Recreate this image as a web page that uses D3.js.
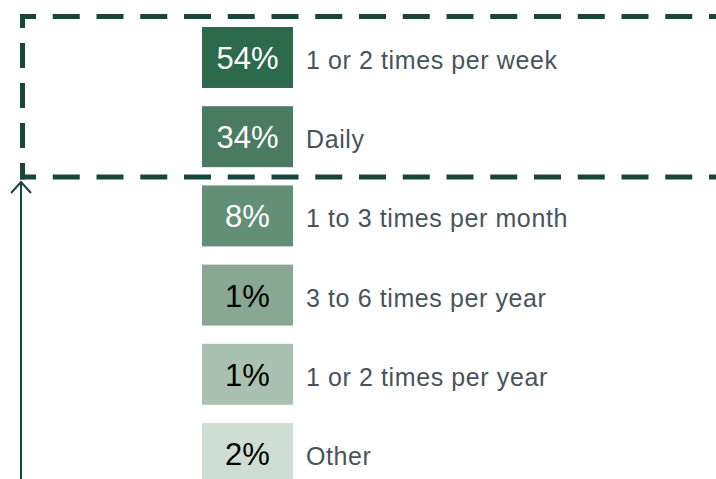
<!DOCTYPE html>
<html>
<head>
<meta charset="utf-8">
<script src="https://cdn.jsdelivr.net/npm/d3@7"></script>
<style>
  html, body { margin: 0; padding: 0; background: #fff; }
  svg { display: block; font-family: "Liberation Sans", Arial, sans-serif; }
</style>
</head>
<body>
<div id="chart"></div>
<script>
// data
var categories = ["1 or 2 times per week", "Daily", "1 to 3 times per month",
                  "3 to 6 times per year", "1 or 2 times per year", "Other"];
var values = [54, 34, 8, 1, 1, 2];
var boxColors = ["#2d6a4b", "#4a7a60", "#638f76", "#88a893", "#a8c1b1", "#cfded5"];
var textColors = ["#fff", "#fff", "#fff", "#000", "#000", "#000"];

var width = 716, height = 479;
var dark = "#17473a";

var svg = d3.select("#chart").append("svg")
    .attr("width", width)
    .attr("height", height);

var y = d3.scaleBand()
    .domain(categories)
    .range([27, 484])
    .paddingInner(0.23);

var boxX = 202, boxW = 91;

var rows = svg.selectAll("g.row")
    .data(categories)
  .enter().append("g")
    .attr("class", "row")
    .attr("transform", function(d) { return "translate(0," + y(d) + ")"; });

rows.append("rect")
    .attr("x", boxX)
    .attr("width", boxW)
    .attr("height", y.bandwidth())
    .attr("fill", function(d, i) { return boxColors[i]; });

rows.append("text")
    .attr("x", boxX + boxW / 2)
    .attr("y", y.bandwidth() / 2 + 11.5)
    .attr("text-anchor", "middle")
    .attr("font-size", 31)
    .attr("fill", function(d, i) { return textColors[i]; })
    .text(function(d, i) { return values[i] + "%"; });

rows.append("text")
    .attr("x", 306)
    .attr("y", y.bandwidth() / 2 + 11.5)
    .attr("font-size", 25)
    .attr("letter-spacing", 0.6)
    .attr("fill", "#49535c")
    .text(function(d) { return d; });

// dashed highlight box (top two rows)
var boxTop = 16.5, boxBottom = 177, boxLeft = 22.5;
[boxTop, boxBottom].forEach(function(yy) {
  svg.append("line")
      .attr("x1", 20).attr("x2", width + 5)
      .attr("y1", yy).attr("y2", yy)
      .attr("stroke", dark)
      .attr("stroke-width", 5)
      .attr("stroke-dasharray", "27,16.75")
      .attr("stroke-dashoffset", 11);
});
svg.append("line")
    .attr("x1", boxLeft).attr("x2", boxLeft)
    .attr("y1", boxTop - 2.5).attr("y2", boxBottom + 2.5)
    .attr("stroke", dark)
    .attr("stroke-width", 5)
    .attr("stroke-dasharray", "25,15")
    .attr("stroke-dashoffset", 11);

// upward arrow
var ax = 21;
svg.append("line")
    .attr("x1", ax).attr("x2", ax)
    .attr("y1", 182).attr("y2", height + 2)
    .attr("stroke", dark)
    .attr("stroke-width", 2);
svg.append("path")
    .attr("d", "M" + (ax - 10) + "," + 193 + "L" + ax + "," + 182 + "L" + (ax + 10) + "," + 193)
    .attr("fill", "none")
    .attr("stroke", dark)
    .attr("stroke-width", 2);
</script>
</body>
</html>
